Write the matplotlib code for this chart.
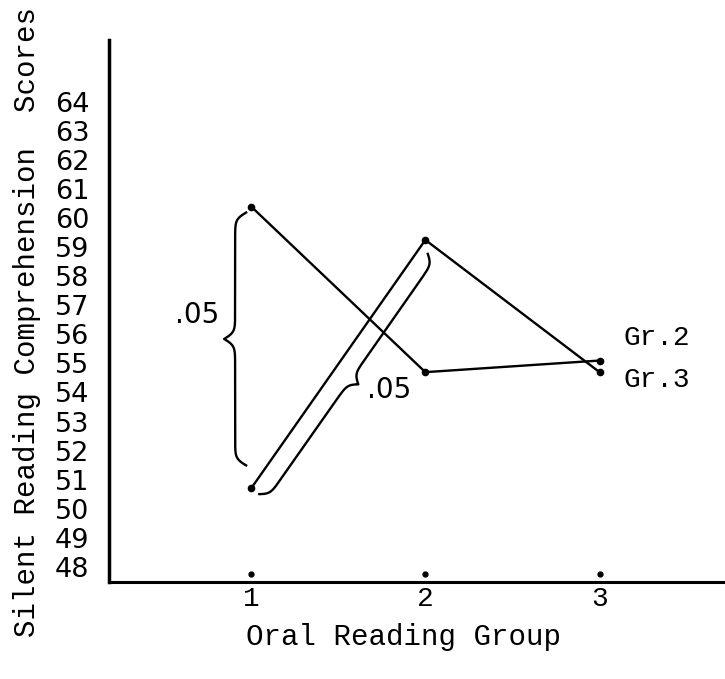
import matplotlib
matplotlib.use('Agg')
import matplotlib.pyplot as plt
import numpy as np
from matplotlib.transforms import blended_transform_factory

# data
groups = [1, 2, 3]
group_labels = ['1', '2', '3']
gr2 = [60.4, 54.7, 55.1]
gr3 = [50.7, 59.25, 54.7]
y_ticks = list(range(48, 65))
series_names = ['Gr.2', 'Gr.3']
sig_label = '.05'

mono = 'Liberation Mono'
sans = 'DejaVu Sans'

fig = plt.figure(figsize=(7.25, 6.79), dpi=100)
ax = fig.add_axes([0.1503, 0.1429, 0.8497, 0.7982])
ax.set_xlim(0.184, 3.72)
ax.set_ylim(47.48, 66.13)

for s in ['top', 'right']:
    ax.spines[s].set_visible(False)
ax.spines['left'].set_linewidth(2.5)
ax.spines['bottom'].set_linewidth(2.2)

ax.set_yticks(y_ticks)
ax.set_yticklabels([str(v) for v in y_ticks], fontsize=19.5, family=sans)
ax.set_xticks(groups)
ax.set_xticklabels(group_labels, fontsize=20, family=mono)
ax.tick_params(axis='y', length=0, pad=14)
ax.tick_params(axis='x', length=0, pad=3)

# little dots over the x axis at each group
trans = blended_transform_factory(ax.transData, ax.transAxes)
ax.plot(groups, [0.0148] * len(groups), 'k.', ms=7, transform=trans, clip_on=False)

ax.plot(groups, gr2, color='black', lw=1.7, marker='o', ms=4.5)
ax.plot(groups, gr3, color='black', lw=1.7, marker='o', ms=4.5)

ax.annotate(series_names[0], (groups[-1], gr2[-1]), xytext=(17.5, 16.5),
            textcoords='offset points', ha='left', va='center', fontsize=20, family=mono)
ax.annotate(series_names[1], (groups[-1], gr3[-1]), xytext=(17.5, -6),
            textcoords='offset points', ha='left', va='center', fontsize=20, family=mono)


def brace(p_a, p_b, side, offset, width, shrink_a, shrink_b, beta=0.3):
    # works in pixels, returns the tip in pixels
    a = ax.transData.transform(p_a)
    b = ax.transData.transform(p_b)
    d = b - a
    L = np.hypot(*d)
    u = d / L
    n = np.array([-u[1], u[0]]) * side
    a = a + u * shrink_a + n * offset
    L = L - shrink_a - shrink_b
    t = np.linspace(0, L / 2, 150)
    half = 1 / (1 + np.exp(-beta * t)) + 1 / (1 + np.exp(-beta * (t - L / 2))) - 0.5
    tt = np.concatenate([t, L - t[::-1]])
    vv = np.concatenate([half, half[::-1]]) * width
    pts = a + np.outer(tt, u) + np.outer(vv, n)
    pts = ax.transData.inverted().transform(pts)
    ax.plot(pts[:, 0], pts[:, 1], color='black', lw=1.7, clip_on=False)
    return a + u * L / 2 + n * width


def text_px(px, s, **kw):
    x, y = ax.transData.inverted().transform(px)
    ax.text(x, y, s, **kw)


tip1 = brace((groups[0], gr2[0]), (groups[0], gr3[0]), -1, 5, 22, 6, 23)
text_px(tip1 + np.array([-5, 24]), sig_label, ha='right', va='center', fontsize=20, family=sans)

tip2 = brace((groups[1], gr3[1]), (groups[0], gr3[0]), 1, 10, 18, 10, 0)
text_px(tip2 + np.array([9, -6]), sig_label, ha='left', va='center', fontsize=20, family=sans)

fig.text(27 / 725, 1 - 322 / 679, 'Silent Reading Comprehension  Scores', rotation=90,
         ha='center', va='center', fontsize=21, family=mono)
fig.text(404 / 725, 1 - 637 / 679, 'Oral Reading Group', ha='center', va='center',
         fontsize=21, family=mono)

fig.savefig('out.png', dpi=100)
